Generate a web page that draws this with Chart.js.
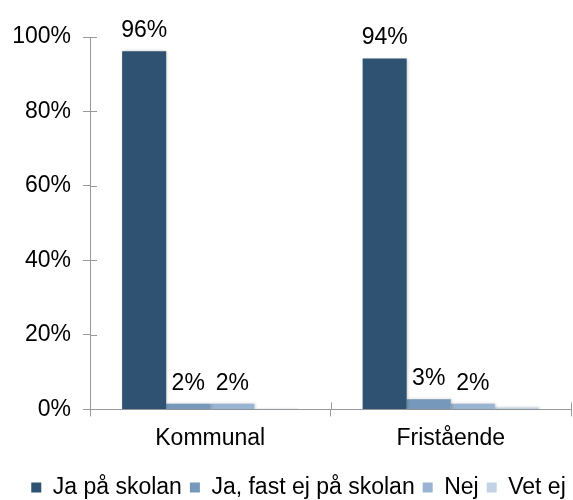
<!DOCTYPE html>
<html>
<head>
<meta charset="utf-8">
<script src="https://cdn.jsdelivr.net/npm/chart.js@4"></script>
<style>
html,body{margin:0;padding:0;background:#fff;}
#wrap{width:573px;height:500px;position:relative;}
</style>
</head>
<body>
<div id="wrap"><canvas id="c" width="573" height="500"></canvas></div>
<script>
const categories = ["Kommunal", "Fristående"];
const seriesNames = ["Ja på skolan", "Ja, fast ej på skolan", "Nej", "Vet ej"];
const jaPaSkolan = [96.2, 94.2];
const jaFastEj = [1.5, 2.7];
const nej = [1.5, 1.5];
const vetEj = [0.2, 0.5];
const yTicks = [0, 20, 40, 60, 80, 100];
const colors = ["#2F5272", "#7698BA", "#98B4D2", "#C3D3E6"];
const showLabel = [true, true, true, false];

const FONT = "'Liberation Sans', Arial, sans-serif";
const FS = 23;
const gridColor = "#999999";

const shadowPlugin = {
  id: 'shadow',
  beforeDatasetsDraw(chart) {
    const ctx = chart.ctx;
    ctx.save();
    ctx.shadowColor = 'rgba(0,0,0,0.22)';
    ctx.shadowBlur = 3;
    ctx.shadowOffsetX = 1;
    ctx.shadowOffsetY = 0;
  },
  afterDatasetsDraw(chart) {
    chart.ctx.restore();
  }
};

const legendShift = {
  id: 'legendShift',
  afterLayout(chart) {
    if (chart.legend) { chart.legend.left += 13; chart.legend.right += 13; }
  }
};

const crossTicks = {
  id: 'crossTicks',
  afterDraw(chart) {
    const ctx = chart.ctx;
    const x = chart.scales.x, y = chart.scales.y;
    ctx.save();
    ctx.strokeStyle = gridColor;
    ctx.lineWidth = 1;
    ctx.beginPath();
    y.ticks.forEach((t, i) => {
      const py = Math.round(y.getPixelForTick(i)) + 0.5;
      ctx.moveTo(x.left, py); ctx.lineTo(x.left + 7, py);
    });
    const n = categories.length;
    for (let i = 0; i <= n; i++) {
      const px = Math.round(x.left + (x.right - x.left) * i / n) + 0.5;
      ctx.moveTo(px, y.bottom); ctx.lineTo(px, y.bottom - 7);
    }
    ctx.stroke();
    ctx.restore();
  }
};

const valueLabels = {
  id: 'valueLabels',
  afterDatasetsDraw(chart) {
    const ctx = chart.ctx;
    ctx.save();
    ctx.font = FS + "px " + FONT;
    ctx.fillStyle = "#000";
    ctx.textAlign = "center";
    ctx.textBaseline = "bottom";
    chart.data.datasets.forEach((ds, di) => {
      if (!showLabel[di]) return;
      const meta = chart.getDatasetMeta(di);
      meta.data.forEach((bar, i) => {
        const v = ds.data[i];
        ctx.fillText(Math.round(v) + "%", bar.x, bar.y - 9);
      });
    });
    ctx.restore();
  }
};

const seriesData = [jaPaSkolan, jaFastEj, nej, vetEj];

new Chart(document.getElementById('c'), {
  type: 'bar',
  data: {
    labels: categories,
    datasets: seriesNames.map((name, i) => ({
      label: name,
      data: seriesData[i],
      backgroundColor: colors[i],
      borderWidth: 0,
      barPercentage: 1.0,
      categoryPercentage: 0.733
    }))
  },
  options: {
    responsive: false,
    animation: false,
    devicePixelRatio: 1,
    layout: { padding: { top: 37, right: 2, left: 0, bottom: -9 } },
    plugins: {
      tooltip: { enabled: false },
      legend: {
        position: 'bottom',
        title: {
          display: true,
          text: ' ',
          font: { size: 8, lineHeight: 1 },
          padding: { top: 0, bottom: 0 }
        },
        labels: {
          font: { family: FONT, size: FS },
          color: '#000',
          boxWidth: 10,
          boxHeight: 10,
          padding: 8
        }
      }
    },
    scales: {
      x: {
        grid: {
          display: true,
          drawOnChartArea: false,
          offset: true,
          color: gridColor,
          tickLength: 7
        },
        border: { color: gridColor, width: 1 },
        ticks: {
          font: { family: FONT, size: FS },
          color: '#000',
          padding: 8
        }
      },
      y: {
        min: 0,
        max: 100,
        afterBuildTicks(scale) { scale.ticks = yTicks.map(v => ({ value: v })); },
        afterFit(scale) { scale.width = 90; },
        grid: {
          display: true,
          drawOnChartArea: false,
          color: gridColor,
          tickLength: 7
        },
        border: { color: gridColor, width: 1 },
        ticks: {
          font: { family: FONT, size: FS },
          color: '#000',
          padding: 12,
          callback: v => v + "%"
        }
      }
    }
  },
  plugins: [shadowPlugin, valueLabels, crossTicks, legendShift]
});
</script>
</body>
</html>
